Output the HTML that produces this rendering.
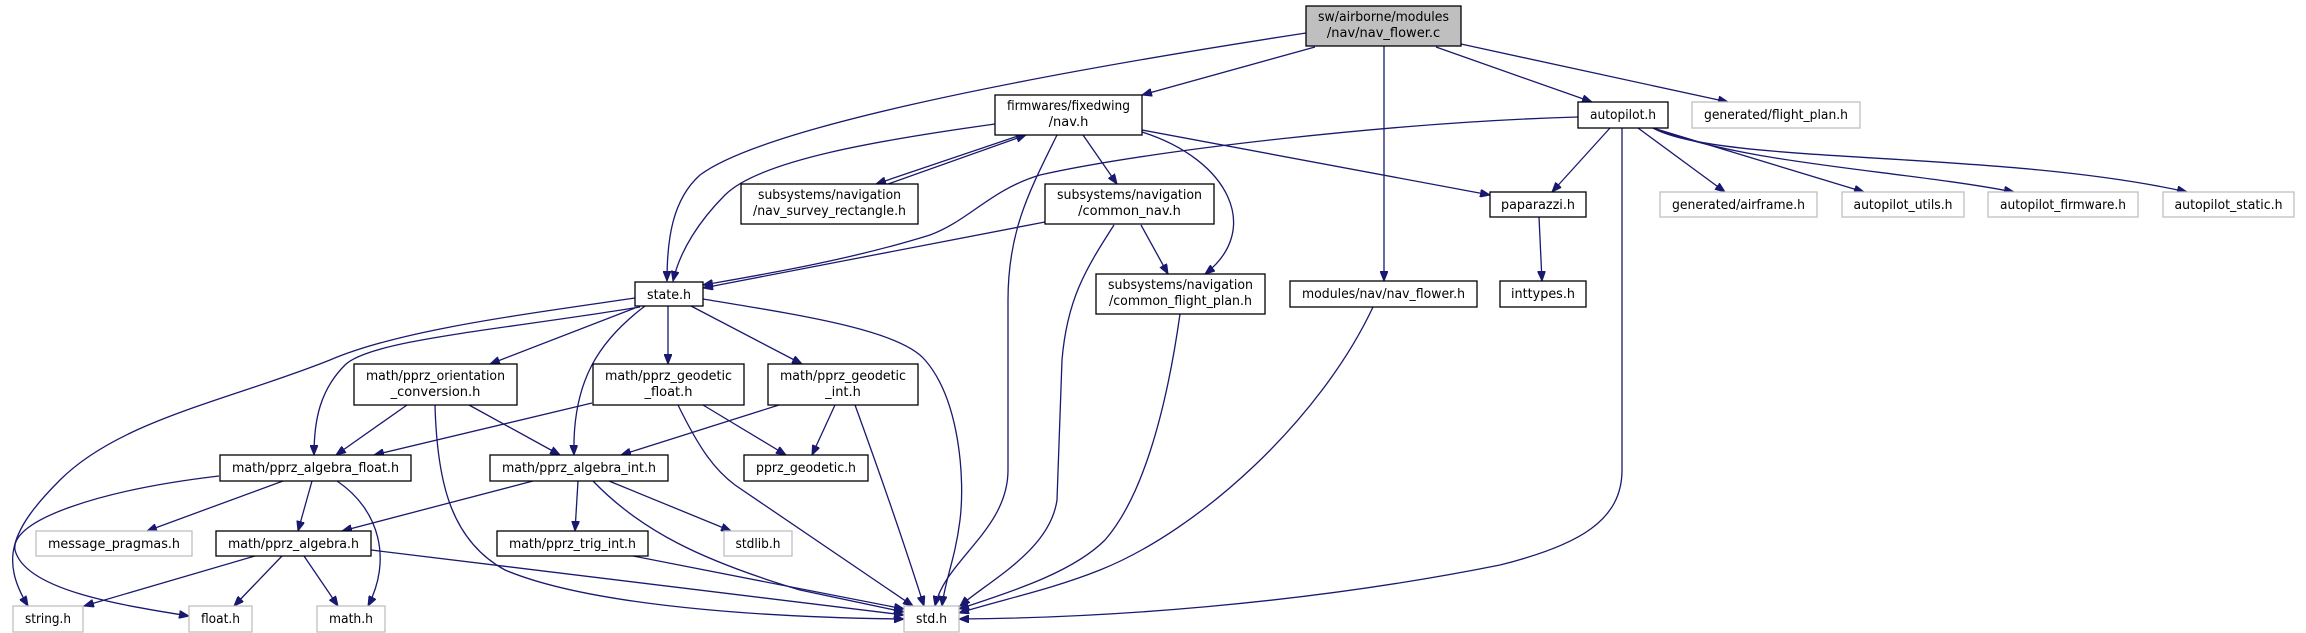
<!DOCTYPE html>
<html><head><meta charset="utf-8"><style>
html,body{margin:0;padding:0;background:#fff;}
svg{display:block;}
text{font-family:"DejaVu Sans","Liberation Sans",sans-serif;font-size:13px;fill:#000;text-anchor:middle;}
.n{fill:#fff;stroke:#000;stroke-width:1.3;}
.g{fill:#fff;stroke:#bfbfbf;stroke-width:1.3;}
.r{fill:#bfbfbf;stroke:#000;stroke-width:1.3;}
path.e{fill:none;stroke:#191970;stroke-width:1.3;marker-end:url(#a);}
</style></head><body>
<svg width="2306" height="633" viewBox="0 0 2306 633" xmlns="http://www.w3.org/2000/svg">
<defs><marker id="a" markerUnits="userSpaceOnUse" markerWidth="11" markerHeight="8" refX="10" refY="4" orient="auto"><path d="M0,0 L10,4 L0,8 z" fill="#191970" stroke="#191970"/></marker></defs>

<!-- edges -->
<path class="e" d="M1306,33 C1000,80 760,130 700,175 C672,200 667,240 667,281"/>
<path class="e" d="M995,124 C880,140 760,160 725,195 C700,220 680,250 673,281"/>
<path class="e" d="M1315,47 L1142,95"/>
<path class="e" d="M1384,46 L1384,281"/>
<path class="e" d="M1436,47 L1592,102"/>
<path class="e" d="M1461,44 L1728,102"/>
<path class="e" d="M1018,136 L876,184"/>
<path class="e" d="M888,184 L1026,135"/>
<path class="e" d="M1083,135 L1117,184"/>
<path class="e" d="M1142,132 C1230,160 1262,230 1205,274"/>
<path class="e" d="M1142,130 L1490,195"/>
<path class="e" d="M1057,135 C1030,190 1008,230 1008,300 L1008,470 C1008,530 945,560 935,606"/>
<path class="e" d="M1045,222 L703,288"/>
<path class="e" d="M1141,225 L1168,274"/>
<path class="e" d="M1114,225 C1085,270 1067,300 1062,360 L1057,500 C1050,550 990,580 960,606"/>
<path class="e" d="M1180,314 C1165,420 1140,500 1105,540 C1070,575 1000,595 959,609"/>
<path class="e" d="M1373,307 C1320,420 1200,530 1100,570 C1050,590 1000,600 959,613"/>
<path class="e" d="M1578,117 C1400,122 1150,150 1040,175 C990,190 970,220 930,235 C850,260 760,275 703,285"/>
<path class="e" d="M1610,128 L1552,192"/>
<path class="e" d="M1622,128 L1622,470 C1622,520 1580,545 1500,565 C1300,605 1100,618 959,619"/>
<path class="e" d="M1638,128 L1725,192"/>
<path class="e" d="M1653,128 L1864,192"/>
<path class="e" d="M1653,128 C1750,165 1900,170 2014,192"/>
<path class="e" d="M1653,128 C1720,165 2000,150 2187,192"/>
<path class="e" d="M1539,217 L1542,281"/>
<path class="e" d="M635,308 L490,364"/>
<path class="e" d="M640,307 C500,330 370,340 345,365 C320,390 314,420 314,455"/>
<path class="e" d="M635,298 C520,315 400,330 330,360 C230,400 120,420 60,480 C10,530 0,560 28,606"/>
<path class="e" d="M645,306 C600,340 572,380 574,455"/>
<path class="e" d="M668,306 L668,364"/>
<path class="e" d="M691,306 L802,364"/>
<path class="e" d="M703,299 C800,315 900,330 925,360 C960,400 965,480 960,520 C955,560 945,580 942,606"/>
<path class="e" d="M407,405 L336,455"/>
<path class="e" d="M469,405 L560,455"/>
<path class="e" d="M435,405 C437,480 450,540 505,570 C600,610 800,618 904,619"/>
<path class="e" d="M592,403 L374,455"/>
<path class="e" d="M703,405 L786,455"/>
<path class="e" d="M678,405 C700,450 715,470 735,485 L913,606"/>
<path class="e" d="M779,405 L621,455"/>
<path class="e" d="M835,405 L812,455"/>
<path class="e" d="M855,405 C875,460 900,530 924,606"/>
<path class="e" d="M283,481 L147,531"/>
<path class="e" d="M312,481 L298,531"/>
<path class="e" d="M337,481 C380,510 392,560 368,606"/>
<path class="e" d="M219,476 C100,490 10,520 15,550 C25,590 120,605 189,616"/>
<path class="e" d="M533,481 L342,531"/>
<path class="e" d="M578,481 L575,531"/>
<path class="e" d="M609,481 L731,531"/>
<path class="e" d="M593,481 C640,530 700,560 800,590 L904,612"/>
<path class="e" d="M255,556 L84,606"/>
<path class="e" d="M282,556 L234,606"/>
<path class="e" d="M304,556 L338,606"/>
<path class="e" d="M371,550 L904,615"/>
<path class="e" d="M633,556 L904,609"/>

<!-- nodes -->
<rect class="r" x="1306" y="6" width="155" height="40"/><text x="1383.5" y="21" textLength="131" lengthAdjust="spacingAndGlyphs">sw/airborne/modules</text><text x="1383.5" y="37">/nav/nav_flower.c</text>
<rect class="n" x="995" y="95" width="147" height="40"/><text x="1068.5" y="110" textLength="123" lengthAdjust="spacingAndGlyphs">firmwares/fixedwing</text><text x="1068.5" y="126">/nav.h</text>
<rect class="n" x="741" y="184" width="177" height="40"/><text x="829.5" y="199" textLength="143" lengthAdjust="spacingAndGlyphs">subsystems/navigation</text><text x="829.5" y="215" textLength="153" lengthAdjust="spacingAndGlyphs">/nav_survey_rectangle.h</text>
<rect class="n" x="1045" y="184" width="169" height="40"/><text x="1129.5" y="199" textLength="145" lengthAdjust="spacingAndGlyphs">subsystems/navigation</text><text x="1129.5" y="215">/common_nav.h</text>
<rect class="n" x="1096" y="274" width="169" height="40"/><text x="1180.5" y="289" textLength="145" lengthAdjust="spacingAndGlyphs">subsystems/navigation</text><text x="1180.5" y="305" textLength="143" lengthAdjust="spacingAndGlyphs">/common_flight_plan.h</text>
<rect class="n" x="1290" y="281" width="187" height="26"/><text x="1383.5" y="298" textLength="163" lengthAdjust="spacingAndGlyphs">modules/nav/nav_flower.h</text>
<rect class="n" x="1490" y="192" width="96" height="25"/><text x="1538" y="209" textLength="74" lengthAdjust="spacingAndGlyphs">paparazzi.h</text>
<rect class="n" x="1500" y="281" width="86" height="26"/><text x="1543" y="298" textLength="64" lengthAdjust="spacingAndGlyphs">inttypes.h</text>
<rect class="n" x="1578" y="102" width="90" height="26"/><text x="1623" y="119" textLength="66" lengthAdjust="spacingAndGlyphs">autopilot.h</text>
<rect class="g" x="1692" y="102" width="168" height="26"/><text x="1776" y="119" textLength="144" lengthAdjust="spacingAndGlyphs">generated/flight_plan.h</text>
<rect class="g" x="1660" y="192" width="157" height="25"/><text x="1738.5" y="209" textLength="133" lengthAdjust="spacingAndGlyphs">generated/airframe.h</text>
<rect class="g" x="1842" y="192" width="122" height="25"/><text x="1903" y="209" textLength="99" lengthAdjust="spacingAndGlyphs">autopilot_utils.h</text>
<rect class="g" x="1988" y="192" width="150" height="25"/><text x="2063" y="209" textLength="126" lengthAdjust="spacingAndGlyphs">autopilot_firmware.h</text>
<rect class="g" x="2163" y="192" width="131" height="25"/><text x="2228.5" y="209" textLength="108" lengthAdjust="spacingAndGlyphs">autopilot_static.h</text>
<rect class="n" x="635" y="282" width="68" height="24"/><text x="669" y="299" textLength="44" lengthAdjust="spacingAndGlyphs">state.h</text>
<rect class="n" x="354" y="364" width="163" height="41"/><text x="435.5" y="380" textLength="139" lengthAdjust="spacingAndGlyphs">math/pprz_orientation</text><text x="435.5" y="396">_conversion.h</text>
<rect class="n" x="593" y="364" width="151" height="41"/><text x="668.5" y="380" textLength="127" lengthAdjust="spacingAndGlyphs">math/pprz_geodetic</text><text x="668.5" y="396">_float.h</text>
<rect class="n" x="768" y="364" width="150" height="41"/><text x="843" y="380" textLength="126" lengthAdjust="spacingAndGlyphs">math/pprz_geodetic</text><text x="843" y="396">_int.h</text>
<rect class="n" x="220" y="455" width="191" height="26"/><text x="315.5" y="472" textLength="167" lengthAdjust="spacingAndGlyphs">math/pprz_algebra_float.h</text>
<rect class="n" x="490" y="455" width="178" height="26"/><text x="579" y="472" textLength="154" lengthAdjust="spacingAndGlyphs">math/pprz_algebra_int.h</text>
<rect class="n" x="744" y="455" width="124" height="26"/><text x="806" y="472" textLength="100" lengthAdjust="spacingAndGlyphs">pprz_geodetic.h</text>
<rect class="g" x="36" y="531" width="156" height="25"/><text x="114" y="548" textLength="132" lengthAdjust="spacingAndGlyphs">message_pragmas.h</text>
<rect class="n" x="216" y="531" width="155" height="25"/><text x="293.5" y="548" textLength="131" lengthAdjust="spacingAndGlyphs">math/pprz_algebra.h</text>
<rect class="n" x="497" y="531" width="151" height="25"/><text x="572.5" y="548" textLength="127" lengthAdjust="spacingAndGlyphs">math/pprz_trig_int.h</text>
<rect class="g" x="724" y="531" width="68" height="25"/><text x="758" y="548" textLength="45" lengthAdjust="spacingAndGlyphs">stdlib.h</text>
<rect class="g" x="13" y="606" width="70" height="26"/><text x="48" y="623" textLength="46" lengthAdjust="spacingAndGlyphs">string.h</text>
<rect class="g" x="189" y="606" width="63" height="26"/><text x="220.5" y="623" textLength="39" lengthAdjust="spacingAndGlyphs">float.h</text>
<rect class="g" x="317" y="606" width="68" height="26"/><text x="351" y="623" textLength="44" lengthAdjust="spacingAndGlyphs">math.h</text>
<rect class="g" x="904" y="606" width="55" height="26"/><text x="931.5" y="623" textLength="31" lengthAdjust="spacingAndGlyphs">std.h</text>
</svg>
</body></html>
